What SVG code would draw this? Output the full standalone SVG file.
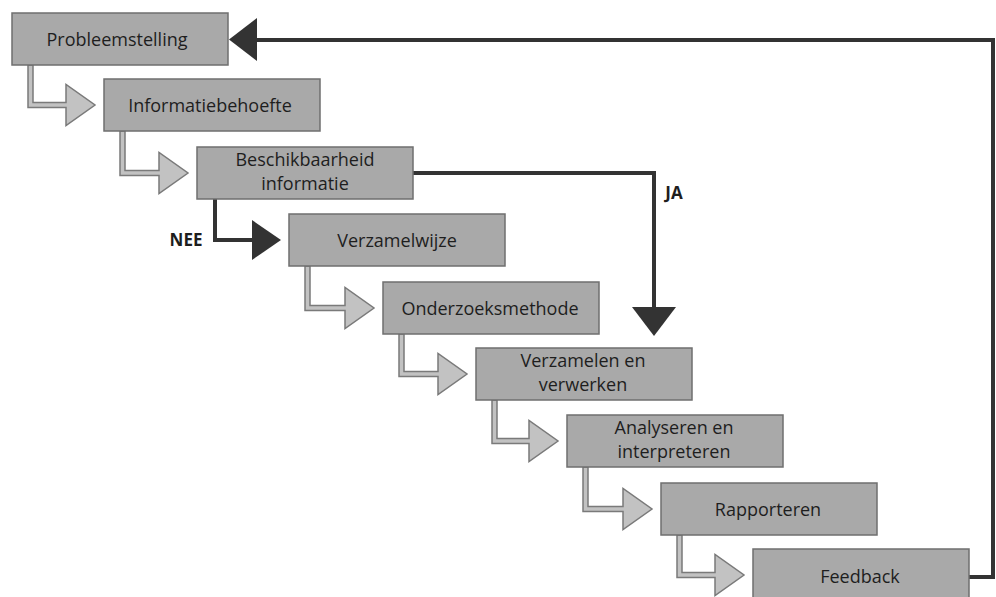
<svg xmlns="http://www.w3.org/2000/svg" width="996" height="597" viewBox="0 0 996 597">
<defs>
<style>
.box{fill:#a9a9a9;stroke:#6f6f6f;stroke-width:1.5}
.t{font-family:"Open Sans","Noto Sans",sans-serif;font-size:18px;fill:#1e1e1e;text-anchor:middle}
.lbl{font-family:"Open Sans","Noto Sans",sans-serif;font-size:17px;font-weight:bold;fill:#1e1e1e;text-anchor:middle}
.hollow{fill:#c2c2c2;stroke:#7a7a7a;stroke-width:1.5;stroke-linejoin:miter}
.line{fill:none;stroke:#333;stroke-width:4}
.head{fill:#333;stroke:none}
</style>
</defs>
<rect width="996" height="597" fill="#fff"/>
<g id="connectors">
<path class="hollow" d="M28,65 V107.5 H66 V125.5 L95,105 L66,84.5 V102.5 H33 V65 Z"/>
<path class="hollow" d="M120,131 V175.5 H159 V193.5 L188,173 L159,152.5 V170.5 H125 V131 Z"/>
<path class="hollow" d="M305,266 V310.5 H345 V328.5 L374,308 L345,287.5 V305.5 H310 V266 Z"/>
<path class="hollow" d="M399,334 V376.5 H438 V394.5 L467,374 L438,353.5 V371.5 H404 V334 Z"/>
<path class="hollow" d="M492,400 V443.5 H529 V461.5 L558,441 L529,420.5 V438.5 H497 V400 Z"/>
<path class="hollow" d="M583,467 V511.5 H623 V529.5 L652,509 L623,488.5 V506.5 H588 V467 Z"/>
<path class="hollow" d="M677,535 V577.5 H715 V595.5 L744,575 L715,554.5 V572.5 H682 V535 Z"/>
<path class="line" d="M215,198 V240 H253"/>
<polygon class="head" points="252,220 252,260 281,240"/>
<path class="line" d="M413,173 H654 V308"/>
<polygon class="head" points="632,307 676,307 654,336"/>
<path class="line" d="M969,577 H993 V40 H255"/>
<polygon class="head" points="257,18 257,61 229,39.5"/>
<text class="lbl" x="186" y="246">NEE</text>
<text class="lbl" x="674" y="199">JA</text>
</g>
<g id="n1"><rect class="box" x="12" y="13" width="216" height="52"/><text class="t" x="117" y="46">Probleemstelling</text></g>
<g id="n2"><rect class="box" x="104" y="79" width="216" height="52"/><text class="t" x="210" y="112">Informatiebehoefte</text></g>
<g id="n3"><rect class="box" x="197" y="147" width="216" height="52"/><text class="t" x="305" y="166">Beschikbaarheid</text><text class="t" x="305" y="190">informatie</text></g>
<g id="n4"><rect class="box" x="289" y="214" width="216" height="52"/><text class="t" x="397" y="247">Verzamelwijze</text></g>
<g id="n5"><rect class="box" x="383" y="282" width="216" height="52"/><text class="t" x="490" y="315">Onderzoeksmethode</text></g>
<g id="n6"><rect class="box" x="476" y="348" width="216" height="52"/><text class="t" x="583" y="367">Verzamelen en</text><text class="t" x="583" y="391">verwerken</text></g>
<g id="n7"><rect class="box" x="567" y="415" width="216" height="52"/><text class="t" x="674" y="434">Analyseren en</text><text class="t" x="674" y="458">interpreteren</text></g>
<g id="n8"><rect class="box" x="661" y="483" width="216" height="52"/><text class="t" x="768" y="516">Rapporteren</text></g>
<g id="n9"><rect class="box" x="753" y="549" width="216" height="52"/><text class="t" x="860" y="583">Feedback</text></g>
</svg>
